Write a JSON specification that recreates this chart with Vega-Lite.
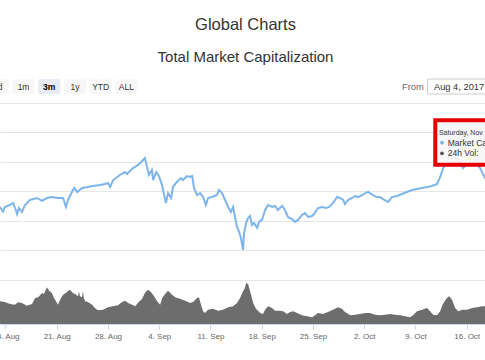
{
  "$schema": "https://vega.github.io/schema/vega-lite/v6.json",
  "width": 485,
  "height": 221,
  "autosize": {"type": "none"},
  "padding": {"left": 0, "top": 103, "right": 0, "bottom": 36},
  "config": {"view": {"stroke": null}, "font": "Liberation Sans"},
  "title": {
    "text": "Global Charts",
    "subtitle": "Total Market Capitalization",
    "anchor": "middle",
    "frame": "group",
    "fontSize": 16.5,
    "fontWeight": "normal",
    "color": "#333333",
    "subtitleFontSize": 15,
    "subtitleColor": "#333333",
    "subtitlePadding": 15.7,
    "offset": 14,
    "dx": 3
  },
  "datasets": {
    "market": [
      {"date": "2017-08-13T06:00:00Z", "cap": 136.9},
      {"date": "2017-08-13T16:00:00Z", "cap": 132.9},
      {"date": "2017-08-13T22:00:00Z", "cap": 136.9},
      {"date": "2017-08-14T15:00:00Z", "cap": 138.6},
      {"date": "2017-08-15T01:00:00Z", "cap": 140.3},
      {"date": "2017-08-15T10:00:00Z", "cap": 134.3},
      {"date": "2017-08-15T14:00:00Z", "cap": 130.9},
      {"date": "2017-08-15T20:00:00Z", "cap": 136.0},
      {"date": "2017-08-16T06:00:00Z", "cap": 132.6},
      {"date": "2017-08-16T16:00:00Z", "cap": 138.6},
      {"date": "2017-08-17T08:00:00Z", "cap": 142.8},
      {"date": "2017-08-18T07:00:00Z", "cap": 144.5},
      {"date": "2017-08-19T00:00:00Z", "cap": 142.0},
      {"date": "2017-08-19T16:00:00Z", "cap": 144.5},
      {"date": "2017-08-20T08:00:00Z", "cap": 145.3},
      {"date": "2017-08-21T04:00:00Z", "cap": 144.5},
      {"date": "2017-08-21T21:00:00Z", "cap": 144.5},
      {"date": "2017-08-22T06:00:00Z", "cap": 136.9},
      {"date": "2017-08-22T13:00:00Z", "cap": 142.8},
      {"date": "2017-08-23T02:00:00Z", "cap": 149.6},
      {"date": "2017-08-23T09:00:00Z", "cap": 153.0},
      {"date": "2017-08-23T19:00:00Z", "cap": 149.6},
      {"date": "2017-08-24T11:00:00Z", "cap": 153.0},
      {"date": "2017-08-25T06:00:00Z", "cap": 153.8},
      {"date": "2017-08-25T23:00:00Z", "cap": 154.7},
      {"date": "2017-08-26T22:00:00Z", "cap": 155.5},
      {"date": "2017-08-27T14:00:00Z", "cap": 156.4},
      {"date": "2017-08-28T00:00:00Z", "cap": 157.2},
      {"date": "2017-08-28T07:00:00Z", "cap": 153.8},
      {"date": "2017-08-28T17:00:00Z", "cap": 159.7},
      {"date": "2017-08-29T15:00:00Z", "cap": 164.0},
      {"date": "2017-08-30T08:00:00Z", "cap": 166.5},
      {"date": "2017-08-30T14:00:00Z", "cap": 164.8},
      {"date": "2017-08-31T10:00:00Z", "cap": 169.9},
      {"date": "2017-09-01T03:00:00Z", "cap": 172.5},
      {"date": "2017-09-01T16:00:00Z", "cap": 175.9},
      {"date": "2017-09-02T01:00:00Z", "cap": 178.4},
      {"date": "2017-09-02T08:00:00Z", "cap": 170.8},
      {"date": "2017-09-02T14:00:00Z", "cap": 164.0},
      {"date": "2017-09-03T00:00:00Z", "cap": 168.2},
      {"date": "2017-09-03T04:00:00Z", "cap": 159.7},
      {"date": "2017-09-03T14:00:00Z", "cap": 166.5},
      {"date": "2017-09-03T23:00:00Z", "cap": 163.1},
      {"date": "2017-09-04T09:00:00Z", "cap": 155.5},
      {"date": "2017-09-04T16:00:00Z", "cap": 147.0},
      {"date": "2017-09-04T22:00:00Z", "cap": 140.3},
      {"date": "2017-09-05T05:00:00Z", "cap": 148.7},
      {"date": "2017-09-05T15:00:00Z", "cap": 144.5},
      {"date": "2017-09-05T21:00:00Z", "cap": 153.8},
      {"date": "2017-09-06T10:00:00Z", "cap": 158.1},
      {"date": "2017-09-06T23:00:00Z", "cap": 161.4},
      {"date": "2017-09-07T06:00:00Z", "cap": 159.7},
      {"date": "2017-09-07T19:00:00Z", "cap": 163.1},
      {"date": "2017-09-08T05:00:00Z", "cap": 162.3},
      {"date": "2017-09-08T12:00:00Z", "cap": 163.1},
      {"date": "2017-09-08T18:00:00Z", "cap": 153.0},
      {"date": "2017-09-09T04:00:00Z", "cap": 147.0},
      {"date": "2017-09-09T14:00:00Z", "cap": 148.7},
      {"date": "2017-09-10T00:00:00Z", "cap": 145.3},
      {"date": "2017-09-10T09:00:00Z", "cap": 138.6},
      {"date": "2017-09-10T16:00:00Z", "cap": 144.5},
      {"date": "2017-09-11T05:00:00Z", "cap": 145.3},
      {"date": "2017-09-11T21:00:00Z", "cap": 147.0},
      {"date": "2017-09-12T04:00:00Z", "cap": 151.3},
      {"date": "2017-09-12T14:00:00Z", "cap": 148.7},
      {"date": "2017-09-13T00:00:00Z", "cap": 142.8},
      {"date": "2017-09-13T10:00:00Z", "cap": 136.9},
      {"date": "2017-09-13T19:00:00Z", "cap": 132.6},
      {"date": "2017-09-14T02:00:00Z", "cap": 136.9},
      {"date": "2017-09-14T15:00:00Z", "cap": 119.9},
      {"date": "2017-09-14T22:00:00Z", "cap": 115.7},
      {"date": "2017-09-15T04:00:00Z", "cap": 110.6},
      {"date": "2017-09-15T11:00:00Z", "cap": 100.4},
      {"date": "2017-09-15T14:00:00Z", "cap": 114.8},
      {"date": "2017-09-15T21:00:00Z", "cap": 123.3},
      {"date": "2017-09-16T03:00:00Z", "cap": 127.5},
      {"date": "2017-09-16T10:00:00Z", "cap": 129.2},
      {"date": "2017-09-16T16:00:00Z", "cap": 121.6},
      {"date": "2017-09-16T23:00:00Z", "cap": 123.3},
      {"date": "2017-09-17T09:00:00Z", "cap": 119.1},
      {"date": "2017-09-17T15:00:00Z", "cap": 124.2},
      {"date": "2017-09-18T01:00:00Z", "cap": 125.9},
      {"date": "2017-09-18T11:00:00Z", "cap": 134.3},
      {"date": "2017-09-18T21:00:00Z", "cap": 138.6},
      {"date": "2017-09-19T10:00:00Z", "cap": 136.9},
      {"date": "2017-09-19T20:00:00Z", "cap": 137.7},
      {"date": "2017-09-20T05:00:00Z", "cap": 134.3},
      {"date": "2017-09-20T19:00:00Z", "cap": 137.7},
      {"date": "2017-09-21T04:00:00Z", "cap": 134.3},
      {"date": "2017-09-21T14:00:00Z", "cap": 128.4},
      {"date": "2017-09-22T03:00:00Z", "cap": 126.7},
      {"date": "2017-09-22T13:00:00Z", "cap": 124.2},
      {"date": "2017-09-22T23:00:00Z", "cap": 125.9},
      {"date": "2017-09-23T12:00:00Z", "cap": 130.1},
      {"date": "2017-09-23T22:00:00Z", "cap": 131.8},
      {"date": "2017-09-24T08:00:00Z", "cap": 128.4},
      {"date": "2017-09-24T21:00:00Z", "cap": 129.2},
      {"date": "2017-09-25T03:00:00Z", "cap": 130.9},
      {"date": "2017-09-25T17:00:00Z", "cap": 136.0},
      {"date": "2017-09-26T06:00:00Z", "cap": 136.9},
      {"date": "2017-09-26T19:00:00Z", "cap": 136.0},
      {"date": "2017-09-27T05:00:00Z", "cap": 136.9},
      {"date": "2017-09-27T18:00:00Z", "cap": 140.3},
      {"date": "2017-09-28T07:00:00Z", "cap": 145.3},
      {"date": "2017-09-28T17:00:00Z", "cap": 144.5},
      {"date": "2017-09-29T03:00:00Z", "cap": 142.8},
      {"date": "2017-09-29T09:00:00Z", "cap": 139.4},
      {"date": "2017-09-29T19:00:00Z", "cap": 142.8},
      {"date": "2017-09-30T08:00:00Z", "cap": 144.5},
      {"date": "2017-09-30T18:00:00Z", "cap": 146.2},
      {"date": "2017-10-01T04:00:00Z", "cap": 145.3},
      {"date": "2017-10-01T17:00:00Z", "cap": 147.0},
      {"date": "2017-10-02T03:00:00Z", "cap": 148.7},
      {"date": "2017-10-02T13:00:00Z", "cap": 149.6},
      {"date": "2017-10-03T05:00:00Z", "cap": 147.0},
      {"date": "2017-10-03T18:00:00Z", "cap": 145.3},
      {"date": "2017-10-04T04:00:00Z", "cap": 145.3},
      {"date": "2017-10-04T14:00:00Z", "cap": 143.6},
      {"date": "2017-10-05T06:00:00Z", "cap": 141.1},
      {"date": "2017-10-05T19:00:00Z", "cap": 145.3},
      {"date": "2017-10-06T12:00:00Z", "cap": 146.2},
      {"date": "2017-10-07T04:00:00Z", "cap": 147.9},
      {"date": "2017-10-07T20:00:00Z", "cap": 149.6},
      {"date": "2017-10-08T13:00:00Z", "cap": 151.3},
      {"date": "2017-10-09T05:00:00Z", "cap": 152.1},
      {"date": "2017-10-09T22:00:00Z", "cap": 153.0},
      {"date": "2017-10-10T14:00:00Z", "cap": 153.8},
      {"date": "2017-10-11T06:00:00Z", "cap": 154.7},
      {"date": "2017-10-11T23:00:00Z", "cap": 156.4},
      {"date": "2017-10-12T09:00:00Z", "cap": 162.3},
      {"date": "2017-10-12T19:00:00Z", "cap": 169.9},
      {"date": "2017-10-13T04:00:00Z", "cap": 174.2},
      {"date": "2017-10-13T17:00:00Z", "cap": 178.4},
      {"date": "2017-10-14T13:00:00Z", "cap": 178.4},
      {"date": "2017-10-15T02:00:00Z", "cap": 175.0},
      {"date": "2017-10-15T12:00:00Z", "cap": 169.9},
      {"date": "2017-10-15T22:00:00Z", "cap": 172.5},
      {"date": "2017-10-16T11:00:00Z", "cap": 175.0},
      {"date": "2017-10-17T07:00:00Z", "cap": 173.3},
      {"date": "2017-10-17T20:00:00Z", "cap": 169.9},
      {"date": "2017-10-18T12:00:00Z", "cap": 161.4},
      {"date": "2017-10-19T04:00:00Z", "cap": 159.7}
    ],
    "volume": [
      {"date": "2017-08-13T06:00:00Z", "vol": 5.28},
      {"date": "2017-08-13T22:00:00Z", "vol": 5.12},
      {"date": "2017-08-14T15:00:00Z", "vol": 4.65},
      {"date": "2017-08-15T07:00:00Z", "vol": 4.49},
      {"date": "2017-08-15T17:00:00Z", "vol": 5.05},
      {"date": "2017-08-16T06:00:00Z", "vol": 4.88},
      {"date": "2017-08-16T22:00:00Z", "vol": 4.26},
      {"date": "2017-08-17T15:00:00Z", "vol": 4.65},
      {"date": "2017-08-18T01:00:00Z", "vol": 6.05},
      {"date": "2017-08-18T11:00:00Z", "vol": 6.21},
      {"date": "2017-08-19T00:00:00Z", "vol": 7.21},
      {"date": "2017-08-19T06:00:00Z", "vol": 6.98},
      {"date": "2017-08-19T16:00:00Z", "vol": 8.54},
      {"date": "2017-08-19T23:00:00Z", "vol": 7.75},
      {"date": "2017-08-20T08:00:00Z", "vol": 7.21},
      {"date": "2017-08-20T15:00:00Z", "vol": 6.05},
      {"date": "2017-08-21T01:00:00Z", "vol": 4.88},
      {"date": "2017-08-21T04:00:00Z", "vol": 4.49},
      {"date": "2017-08-21T14:00:00Z", "vol": 6.05},
      {"date": "2017-08-21T21:00:00Z", "vol": 6.82},
      {"date": "2017-08-22T10:00:00Z", "vol": 7.44},
      {"date": "2017-08-22T19:00:00Z", "vol": 7.98},
      {"date": "2017-08-23T05:00:00Z", "vol": 7.21},
      {"date": "2017-08-23T12:00:00Z", "vol": 6.98},
      {"date": "2017-08-23T22:00:00Z", "vol": 6.44},
      {"date": "2017-08-24T01:00:00Z", "vol": 7.6},
      {"date": "2017-08-24T04:00:00Z", "vol": 6.44},
      {"date": "2017-08-24T11:00:00Z", "vol": 6.21},
      {"date": "2017-08-24T14:00:00Z", "vol": 7.6},
      {"date": "2017-08-24T17:00:00Z", "vol": 6.05},
      {"date": "2017-08-24T21:00:00Z", "vol": 5.28},
      {"date": "2017-08-25T06:00:00Z", "vol": 5.12},
      {"date": "2017-08-25T20:00:00Z", "vol": 4.49},
      {"date": "2017-08-26T05:00:00Z", "vol": 3.72},
      {"date": "2017-08-26T15:00:00Z", "vol": 3.19},
      {"date": "2017-08-27T08:00:00Z", "vol": 3.33},
      {"date": "2017-08-28T00:00:00Z", "vol": 3.88},
      {"date": "2017-08-28T16:00:00Z", "vol": 4.12},
      {"date": "2017-08-29T09:00:00Z", "vol": 4.35},
      {"date": "2017-08-29T22:00:00Z", "vol": 5.12},
      {"date": "2017-08-30T08:00:00Z", "vol": 5.42},
      {"date": "2017-08-30T18:00:00Z", "vol": 4.88},
      {"date": "2017-08-31T07:00:00Z", "vol": 4.49},
      {"date": "2017-08-31T17:00:00Z", "vol": 4.12},
      {"date": "2017-09-01T02:00:00Z", "vol": 4.88},
      {"date": "2017-09-01T16:00:00Z", "vol": 5.88},
      {"date": "2017-09-02T01:00:00Z", "vol": 7.21},
      {"date": "2017-09-02T11:00:00Z", "vol": 7.98},
      {"date": "2017-09-02T21:00:00Z", "vol": 7.44},
      {"date": "2017-09-03T07:00:00Z", "vol": 6.44},
      {"date": "2017-09-03T17:00:00Z", "vol": 5.28},
      {"date": "2017-09-04T03:00:00Z", "vol": 4.49},
      {"date": "2017-09-04T09:00:00Z", "vol": 5.88},
      {"date": "2017-09-04T19:00:00Z", "vol": 6.98},
      {"date": "2017-09-05T05:00:00Z", "vol": 7.75},
      {"date": "2017-09-05T18:00:00Z", "vol": 6.82},
      {"date": "2017-09-06T04:00:00Z", "vol": 6.21},
      {"date": "2017-09-06T20:00:00Z", "vol": 5.88},
      {"date": "2017-09-07T13:00:00Z", "vol": 5.42},
      {"date": "2017-09-08T05:00:00Z", "vol": 4.88},
      {"date": "2017-09-08T15:00:00Z", "vol": 5.12},
      {"date": "2017-09-09T04:00:00Z", "vol": 6.05},
      {"date": "2017-09-09T10:00:00Z", "vol": 6.21},
      {"date": "2017-09-09T17:00:00Z", "vol": 4.49},
      {"date": "2017-09-10T00:00:00Z", "vol": 2.95},
      {"date": "2017-09-10T06:00:00Z", "vol": 2.56},
      {"date": "2017-09-10T16:00:00Z", "vol": 3.33},
      {"date": "2017-09-11T08:00:00Z", "vol": 3.56},
      {"date": "2017-09-12T01:00:00Z", "vol": 3.09},
      {"date": "2017-09-12T17:00:00Z", "vol": 3.33},
      {"date": "2017-09-13T10:00:00Z", "vol": 3.88},
      {"date": "2017-09-14T02:00:00Z", "vol": 4.12},
      {"date": "2017-09-14T15:00:00Z", "vol": 4.88},
      {"date": "2017-09-15T01:00:00Z", "vol": 6.05},
      {"date": "2017-09-15T11:00:00Z", "vol": 7.6},
      {"date": "2017-09-15T17:00:00Z", "vol": 8.37},
      {"date": "2017-09-15T21:00:00Z", "vol": 9.54},
      {"date": "2017-09-16T03:00:00Z", "vol": 9.3},
      {"date": "2017-09-16T10:00:00Z", "vol": 7.6},
      {"date": "2017-09-16T20:00:00Z", "vol": 4.88},
      {"date": "2017-09-17T05:00:00Z", "vol": 3.56},
      {"date": "2017-09-17T19:00:00Z", "vol": 2.56},
      {"date": "2017-09-18T04:00:00Z", "vol": 2.33},
      {"date": "2017-09-18T11:00:00Z", "vol": 3.33},
      {"date": "2017-09-18T21:00:00Z", "vol": 4.12},
      {"date": "2017-09-19T10:00:00Z", "vol": 3.72},
      {"date": "2017-09-19T20:00:00Z", "vol": 3.09},
      {"date": "2017-09-20T12:00:00Z", "vol": 3.09},
      {"date": "2017-09-20T22:00:00Z", "vol": 2.95},
      {"date": "2017-09-21T11:00:00Z", "vol": 2.33},
      {"date": "2017-09-21T21:00:00Z", "vol": 2.79},
      {"date": "2017-09-22T07:00:00Z", "vol": 2.95},
      {"date": "2017-09-22T20:00:00Z", "vol": 2.56},
      {"date": "2017-09-23T12:00:00Z", "vol": 2.02},
      {"date": "2017-09-24T05:00:00Z", "vol": 1.79},
      {"date": "2017-09-24T21:00:00Z", "vol": 1.56},
      {"date": "2017-09-25T07:00:00Z", "vol": 2.02},
      {"date": "2017-09-25T17:00:00Z", "vol": 2.56},
      {"date": "2017-09-26T09:00:00Z", "vol": 2.33},
      {"date": "2017-09-27T01:00:00Z", "vol": 2.79},
      {"date": "2017-09-27T18:00:00Z", "vol": 3.33},
      {"date": "2017-09-28T10:00:00Z", "vol": 3.88},
      {"date": "2017-09-28T23:00:00Z", "vol": 3.56},
      {"date": "2017-09-29T09:00:00Z", "vol": 2.79},
      {"date": "2017-09-30T02:00:00Z", "vol": 2.02},
      {"date": "2017-09-30T18:00:00Z", "vol": 2.16},
      {"date": "2017-10-01T10:00:00Z", "vol": 2.33},
      {"date": "2017-10-02T03:00:00Z", "vol": 2.56},
      {"date": "2017-10-02T19:00:00Z", "vol": 2.56},
      {"date": "2017-10-03T12:00:00Z", "vol": 2.16},
      {"date": "2017-10-04T04:00:00Z", "vol": 2.02},
      {"date": "2017-10-04T20:00:00Z", "vol": 2.16},
      {"date": "2017-10-05T13:00:00Z", "vol": 2.33},
      {"date": "2017-10-06T05:00:00Z", "vol": 2.16},
      {"date": "2017-10-06T22:00:00Z", "vol": 2.02},
      {"date": "2017-10-07T14:00:00Z", "vol": 1.79},
      {"date": "2017-10-08T06:00:00Z", "vol": 1.56},
      {"date": "2017-10-08T16:00:00Z", "vol": 2.02},
      {"date": "2017-10-09T05:00:00Z", "vol": 2.95},
      {"date": "2017-10-09T22:00:00Z", "vol": 3.33},
      {"date": "2017-10-10T14:00:00Z", "vol": 3.72},
      {"date": "2017-10-11T00:00:00Z", "vol": 2.95},
      {"date": "2017-10-11T10:00:00Z", "vol": 2.16},
      {"date": "2017-10-11T23:00:00Z", "vol": 2.02},
      {"date": "2017-10-12T09:00:00Z", "vol": 2.95},
      {"date": "2017-10-12T18:00:00Z", "vol": 4.65},
      {"date": "2017-10-13T07:00:00Z", "vol": 6.05},
      {"date": "2017-10-13T14:00:00Z", "vol": 6.44},
      {"date": "2017-10-14T00:00:00Z", "vol": 5.65},
      {"date": "2017-10-14T10:00:00Z", "vol": 3.72},
      {"date": "2017-10-14T20:00:00Z", "vol": 2.95},
      {"date": "2017-10-15T09:00:00Z", "vol": 3.33},
      {"date": "2017-10-16T01:00:00Z", "vol": 3.33},
      {"date": "2017-10-16T18:00:00Z", "vol": 3.72},
      {"date": "2017-10-17T10:00:00Z", "vol": 3.88},
      {"date": "2017-10-18T02:00:00Z", "vol": 4.12},
      {"date": "2017-10-18T16:00:00Z", "vol": 4.12}
    ],
    "tipBox": [
      {"start": "2017-10-11T17:00:00Z", "end": "2017-10-20T00:00:00Z", "top": 210.3, "bottom": 172.7}
    ],
    "tipText": [
      {"date": "2017-10-12T05:00:00Z", "cap": 199.8, "label": "Saturday, Nov 4, 2017", "kind": "header"},
      {"date": "2017-10-13T10:00:00Z", "cap": 191.4, "label": "Market Cap:", "kind": "series"},
      {"date": "2017-10-13T10:00:00Z", "cap": 182.4, "label": "24h Vol:", "kind": "series"}
    ],
    "tipDots": [
      {"date": "2017-10-12T15:00:00Z", "cap": 191.4, "series": "Market Cap"},
      {"date": "2017-10-12T15:00:00Z", "cap": 182.4, "series": "24h Vol"}
    ],
    "controls": [
      {"label": "7d", "bar": "range", "selected": false},
      {"label": "1m", "bar": "range", "selected": false},
      {"label": "3m", "bar": "range", "selected": true},
      {"label": "1y", "bar": "range", "selected": false},
      {"label": "YTD", "bar": "range", "selected": false},
      {"label": "ALL", "bar": "range", "selected": false}
    ],
    "rangeInput": [
      {"label": "From", "bar": "range", "role": "label"},
      {"label": "Aug 4, 2017", "bar": "range", "role": "input"}
    ]
  },
  "layer": [
    {
      "data": {"name": "volume"},
      "mark": {"type": "area", "color": "#6d6d6d", "opacity": 1, "clip": true},
      "encoding": {
        "x": {
          "field": "date", "type": "temporal",
          "scale": {"type": "utc", "domain": [{"year": 2017, "month": 8, "date": 13, "hours": 6, "utc": true}, {"year": 2017, "month": 10, "date": 18, "hours": 12, "utc": true}]},
          "axis": {
            "values": [
              {"year": 2017, "month": 8, "date": 14, "utc": true},
              {"year": 2017, "month": 8, "date": 21, "utc": true},
              {"year": 2017, "month": 8, "date": 28, "utc": true},
              {"year": 2017, "month": 9, "date": 4, "utc": true},
              {"year": 2017, "month": 9, "date": 11, "utc": true},
              {"year": 2017, "month": 9, "date": 18, "utc": true},
              {"year": 2017, "month": 9, "date": 25, "utc": true},
              {"year": 2017, "month": 10, "date": 2, "utc": true},
              {"year": 2017, "month": 10, "date": 9, "utc": true},
              {"year": 2017, "month": 10, "date": 16, "utc": true}
            ],
            "labelExpr": "utcFormat(datum.value, '%-d. %b')",
            "title": null,
            "grid": false,
            "domainColor": "#ccd6eb",
            "tickColor": "#ccd6eb",
            "tickSize": 5,
            "labelColor": "#666666",
            "labelFontSize": 8,
            "labelPadding": 3,
            "labelFlush": false,
            "labelOverlap": false
          }
        },
        "y": {"field": "vol", "type": "quantitative", "scale": {"domain": [0, 51.4], "nice": false, "zero": true}, "axis": null}
      }
    },
    {
      "data": {"name": "market"},
      "mark": {"type": "line", "color": "#7cb5ec", "strokeWidth": 2, "clip": true},
      "encoding": {
        "x": {"field": "date", "type": "temporal", "scale": {"type": "utc", "domain": [{"year": 2017, "month": 8, "date": 13, "hours": 6, "utc": true}, {"year": 2017, "month": 10, "date": 18, "hours": 12, "utc": true}]}, "axis": null},
        "y": {
          "field": "cap", "type": "quantitative",
          "scale": {"domain": [37.71, 225], "nice": false, "zero": false},
          "axis": {"values": [75, 100, 125, 150, 175, 200, 225], "grid": true, "gridColor": "#e6e6e6", "labels": false, "ticks": false, "domain": false, "title": null}
        }
      }
    },
    {
      "layer": [
        {
          "data": {"name": "tipBox"},
          "mark": {"type": "rect", "fill": "#f7f7f7", "fillOpacity": 0.95, "stroke": "#e60000", "strokeWidth": 4, "clip": true},
          "encoding": {
            "x": {"field": "start", "type": "temporal", "scale": {"type": "utc", "domain": [{"year": 2017, "month": 8, "date": 13, "hours": 6, "utc": true}, {"year": 2017, "month": 10, "date": 18, "hours": 12, "utc": true}]}, "axis": null},
            "x2": {"field": "end"},
            "y": {"field": "top", "type": "quantitative", "scale": {"domain": [37.71, 225], "nice": false, "zero": false}, "axis": null},
            "y2": {"field": "bottom"}
          }
        },
        {
          "data": {"name": "tipDots"},
          "mark": {"type": "circle", "size": 14, "opacity": 1},
          "encoding": {
            "x": {"field": "date", "type": "temporal"},
            "y": {"field": "cap", "type": "quantitative"},
            "color": {"field": "series", "type": "nominal", "scale": {"domain": ["Market Cap", "24h Vol"], "range": ["#7cb5ec", "#555555"]}, "legend": null}
          }
        },
        {
          "data": {"name": "tipText"},
          "transform": [{"filter": "datum.kind === 'header'"}],
          "mark": {"type": "text", "align": "left", "baseline": "middle", "fontSize": 7, "color": "#333333"},
          "encoding": {
            "x": {"field": "date", "type": "temporal"},
            "y": {"field": "cap", "type": "quantitative"},
            "text": {"field": "label"}
          }
        },
        {
          "data": {"name": "tipText"},
          "transform": [{"filter": "datum.kind === 'series'"}],
          "mark": {"type": "text", "align": "left", "baseline": "middle", "fontSize": 8.5, "color": "#333333"},
          "encoding": {
            "x": {"field": "date", "type": "temporal"},
            "y": {"field": "cap", "type": "quantitative"},
            "text": {"field": "label"}
          }
        }
      ]
    },
    {
      "data": {"name": "controls"},
      "encoding": {
        "x": {"field": "label", "type": "nominal", "scale": {"domain": ["7d", "1m", "3m", "1y", "YTD", "ALL"], "range": [-15, 139.2], "paddingInner": 0.144, "paddingOuter": 0.072}, "axis": null},
        "y": {"field": "bar", "type": "nominal", "scale": {"domain": ["range"], "range": [-24, -9], "paddingInner": 0, "paddingOuter": 0}, "axis": null}
      },
      "layer": [
        {
          "mark": {"type": "rect", "cornerRadius": 2},
          "encoding": {"fill": {"condition": {"test": "datum.selected", "value": "#e6ebf5"}, "value": "#f7f7f7"}}
        },
        {
          "transform": [{"filter": "!datum.selected"}],
          "mark": {"type": "text", "fontSize": 8.5, "color": "#333333", "baseline": "middle"},
          "encoding": {"text": {"field": "label"}}
        },
        {
          "transform": [{"filter": "datum.selected"}],
          "mark": {"type": "text", "fontSize": 8.5, "fontWeight": "bold", "color": "#000000", "baseline": "middle"},
          "encoding": {"text": {"field": "label"}}
        }
      ]
    },
    {
      "data": {"name": "rangeInput"},
      "layer": [
        {
          "transform": [{"filter": "datum.role === 'input'"}],
          "mark": {"type": "rect", "fill": "#ffffff", "stroke": "#cccccc", "strokeWidth": 1},
          "encoding": {
            "x": {"field": "label", "type": "nominal", "scale": {"domain": ["Aug 4, 2017"], "range": [427.5, 500], "paddingInner": 0, "paddingOuter": 0}, "axis": null},
            "y": {"field": "bar", "type": "nominal", "scale": {"domain": ["range"], "range": [-24, -9], "paddingInner": 0, "paddingOuter": 0}, "axis": null}
          }
        },
        {
          "mark": {"type": "text", "align": "left", "baseline": "middle", "fontSize": 9.3},
          "encoding": {
            "x": {"field": "label", "type": "nominal", "scale": {"type": "point", "domain": ["From", "Aug 4, 2017"], "range": [402, 434], "padding": 0}, "axis": null},
            "y": {"field": "bar", "type": "nominal", "scale": {"domain": ["range"], "range": [-24, -9], "paddingInner": 0, "paddingOuter": 0}, "axis": null},
            "text": {"field": "label"},
            "color": {"condition": {"test": "datum.role === 'label'", "value": "#666666"}, "value": "#333333"}
          }
        }
      ],
      "resolve": {"scale": {"x": "independent"}}
    }
  ],
  "resolve": {"scale": {"x": "independent", "y": "independent", "color": "independent", "fill": "independent"}}
}
